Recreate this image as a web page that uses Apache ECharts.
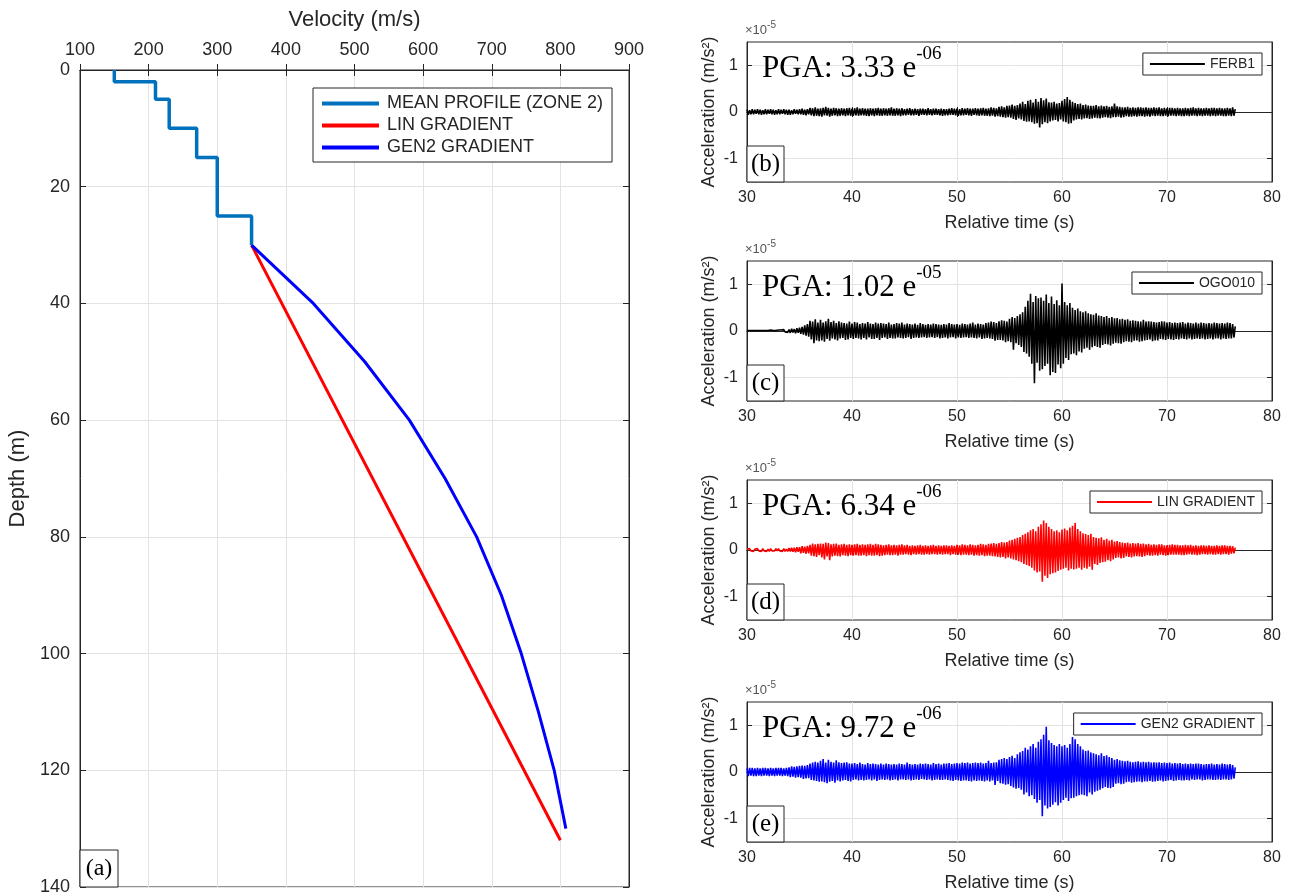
<!DOCTYPE html>
<html>
<head>
<meta charset="utf-8">
<script src="https://cdn.jsdelivr.net/npm/echarts@6/dist/echarts.min.js"></script>
<style>
html,body{margin:0;padding:0;background:#fff;}
#chart{width:1296px;height:896px;}
</style>
</head>
<body>
<div id="chart"></div>
<script>
// ---------------- Panel (a): velocity profiles ----------------
const meanLayerTop    = [0, 2, 5, 10, 15, 25];
const meanLayerBottom = [2, 5, 10, 15, 25, 30];
const meanLayerVel    = [150, 210, 230, 270, 300, 350];
const linDepth = [30, 132];
const linVel   = [350, 800];
const gen2Depth = [30, 40, 50, 60, 70, 80, 90, 100, 110, 120, 130];
const gen2Vel   = [350, 440, 515, 580, 632, 678, 714, 743, 768, 791, 808];
const velTicks = [100, 200, 300, 400, 500, 600, 700, 800, 900];
const depthTicks = [0, 20, 40, 60, 80, 100, 120, 140];

// ---------------- Panels (b)-(e): acceleration traces ----------------
// successive alternating peaks, units of 1e-7 m/s^2, one every 0.125 s from 30 s
const traceStart = 30;
const traceStep = 0.125;
const ferb1Peaks = [
5,-6,4,-5,6,-5,5,-4, 6,-5,5,-6,4,-5,6,-5, 5,-4,6,-5,5,-6,4,-5, 6,-5,5,-4,6,-5,5,-6,
5,-6,4,-5,6,-4,5,-5, 6,-5,7,-6,5,-7,6,-5, 9,-7,8,-9,10,-8,7,-9, 8,-10,9,-7,11,-8,9,-10,
7,-8,9,-7,8,-9,7,-8, 8,-7,7,-9,8,-7,9,-8, 7,-8,8,-7,10,-8,7,-7, 8,-7,7,-8,7,-9,8,-7,
7,-9,8,-7,9,-8,7,-8, 8,-7,7,-8,8,-7,10,-8, 7,-8,8,-7,7,-9,8,-7, 6,-7,7,-6,8,-7,6,-7,
7,-6,6,-8,7,-6,7,-6, 6,-7,8,-6,6,-7,7,-6, 7,-6,6,-7,7,-8,6,-7, 6,-7,7,-6,8,-6,7,-7,
7,-8,6,-7,8,-7,7,-6, 8,-7,7,-8,7,-6,8,-7, 7,-8,8,-7,9,-8,7,-8, 8,-9,10,-8,9,-10,8,-9,
11,-10,12,-11,10,-12,13,-11, 14,-12,16,-15,13,-17,15,-14, 18,-16,22,-19,17,-21,24,-20, 26,-22,20,-25,28,-24,22,-33,
30,-26,25,-22,29,-24,21,-20, 20,-18,22,-17,18,-20,19,-16, 24,-20,28,-22,32,-25,26,-24, 22,-18,19,-16,17,-15,18,-16,
15,-14,16,-13,14,-15,13,-14, 13,-12,15,-13,12,-14,14,-12, 12,-11,13,-12,11,-13,12,-11, 18,-11,12,-10,11,-12,10,-11,
10,-9,11,-10,9,-10,10,-9, 9,-10,10,-9,10,-9,9,-10, 10,-9,9,-10,9,-8,10,-9, 9,-8,10,-9,8,-9,9,-8,
8,-9,9,-8,9,-8,8,-9, 9,-8,8,-9,8,-9,9,-8, 8,-9,9,-8,10,-8,8,-9, 9,-8,8,-9,8,-8,9,-8,
8,-9,9,-8,9,-9,8,-8, 9,-8,8,-9,8,-9,9,-8, 8,-9,10,-8, 6
];
const ogo010Peaks = [
1,-1,1,-1,1,-1,1,-1, 1,-1,1,-1,1,-1,1,-1, 1,-1,2,-1,1,-2,1,-1, 2,-1,2,-2,3,-2,2,-3,
3,-4,5,-3,4,-5,6,-4, 7,-6,9,-8,12,-10,15,-12, 22,-18,20,-26,25,-20,18,-22, 24,-20,18,-23,21,-17,26,-21,
19,-16,22,-18,17,-20,21,-16, 18,-15,17,-19,16,-18,20,-15, 16,-17,19,-15,18,-16,15,-18, 17,-15,16,-18,19,-14,16,-17,
15,-17,18,-15,16,-19,17,-15, 16,-14,15,-17,18,-15,14,-16, 15,-16,17,-14,16,-15,18,-16, 14,-15,16,-13,15,-17,14,-15,
16,-14,13,-15,17,-14,15,-13, 13,-15,15,-14,14,-13,16,-15, 15,-13,14,-16,13,-15,15,-14, 14,-16,17,-14,15,-13,14,-16,
15,-14,13,-15,16,-14,15,-13, 14,-15,16,-14,18,-15,14,-16, 16,-14,15,-17,14,-16,17,-15, 18,-16,20,-17,19,-21,17,-19,
21,-19,23,-20,22,-24,20,-22, 26,-24,30,-40,28,-26,32,-30, 36,-34,40,-45,52,-48,65,-55, 80,-70,62,-112,75,-68,70,-85,
72,-82,65,-75,78,-70,60,-95, 74,-88,58,-90,66,-72,55,-80, 102,-70,62,-58,55,-62,60,-50, 50,-48,45,-52,48,-44,42,-46,
40,-38,42,-36,38,-40,36,-35, 35,-32,38,-34,33,-36,32,-30, 30,-28,32,-29,28,-31,30,-27, 27,-25,28,-26,25,-27,26,-24,
24,-22,25,-23,22,-24,23,-21, 22,-20,21,-23,20,-22,24,-20, 20,-19,21,-18,20,-22,19,-20, 18,-20,19,-17,21,-18,20,-19,
18,-17,19,-18,17,-19,18,-17, 17,-18,18,-16,19,-17,16,-18, 18,-16,17,-18,16,-17,18,-16, 16,-17,18,-16,17,-18,16,-17,
17,-16,16,-18,18,-16,17,-16, 16,-18,17,-16,16,-17,18,-16, 17,-16,15,-14, 10
];
const linPeaks = [
2,-2,3,-2,2,-3,2,-2, 3,-2,2,-3,3,-2,2,-3, 2,-3,3,-2,2,-2,3,-2, 3,-2,2,-3,3,-3,2,-3,
4,-3,5,-4,5,-5,6,-4, 6,-7,8,-6,7,-8,9,-7, 11,-12,14,-13,12,-15,13,-11, 14,-16,13,-20,16,-14,15,-22,
12,-14,13,-12,14,-13,11,-14, 12,-11,13,-12,11,-13,12,-11, 11,-12,12,-11,13,-12,11,-12, 12,-11,11,-13,12,-11,13,-12,
11,-12,13,-11,12,-13,11,-12, 10,-11,11,-10,12,-11,10,-11, 11,-10,10,-12,11,-10,12,-10, 10,-9,11,-10,9,-11,10,-9,
9,-10,10,-9,11,-10,9,-10, 10,-9,9,-10,10,-9,11,-9, 9,-10,10,-9,9,-10,10,-9, 10,-9,9,-11,10,-9,9,-10,
11,-10,10,-11,12,-10,11,-10, 10,-11,12,-10,11,-12,10,-11, 11,-12,13,-11,12,-13,11,-12, 13,-12,14,-13,15,-14,13,-15,
15,-16,17,-15,16,-18,17,-16, 20,-18,22,-20,24,-22,26,-24, 28,-26,32,-30,35,-32,38,-34, 42,-38,45,-44,40,-48,50,-46,
55,-68,63,-55,58,-60,50,-52, 45,-50,40,-48,42,-45,38,-42, 44,-40,46,-38,42,-44,48,-40, 52,-42,58,-40,45,-38,40,-42,
36,-38,34,-40,32,-36,35,-42, 28,-30,26,-32,25,-28,27,-26, 22,-25,24,-22,20,-24,22,-20, 18,-17,19,-16,17,-18,16,-17,
15,-14,16,-15,14,-16,15,-14, 14,-13,15,-14,13,-15,14,-13, 12,-11,13,-12,11,-12,12,-11, 11,-12,12,-10,12,-11,10,-12,
10,-11,11,-10,12,-10,11,-10, 11,-10,10,-11,10,-11,11,-10, 10,-9,11,-10,9,-10,10,-11, 9,-10,10,-9,10,-9,9,-10,
10,-9,9,-10,9,-10,10,-9, 9,-10,10,-9,10,-9,9,-10, 9,-8,8,-7, 5
];
const gen2Peaks = [
8,-9,9,-8,9,-9,8,-9, 9,-8,8,-9,9,-8,9,-8, 8,-9,9,-8,8,-9,9,-8, 9,-8,9,-9,8,-8,9,-9,
10,-11,12,-10,11,-12,12,-11, 13,-12,14,-15,13,-14,15,-13, 18,-17,20,-18,22,-19,20,-21, 24,-20,28,-22,20,-24,26,-21,
22,-19,20,-23,25,-18,21,-20, 19,-18,20,-17,21,-19,18,-20, 18,-17,19,-16,17,-18,20,-17, 17,-18,16,-17,19,-16,17,-18,
18,-16,17,-19,16,-17,18,-16, 16,-17,18,-16,17,-18,16,-17, 17,-16,16,-18,18,-16,17,-16, 16,-17,20,-16,17,-18,16,-17,
17,-16,16,-17,18,-15,17,-16, 18,-17,17,-16,16,-18,19,-17, 17,-16,18,-17,16,-17,18,-16, 18,-17,19,-18,17,-19,18,-17,
19,-18,18,-19,20,-18,19,-18, 20,-19,18,-20,19,-18,20,-19, 19,-18,20,-19,18,-20,19,-18, 24,-20,19,-18,20,-28,21,-19,
26,-24,28,-25,30,-27,28,-26, 32,-30,35,-33,30,-36,38,-34, 42,-38,45,-48,52,-44,48,-52, 55,-50,60,-58,52,-66,65,-60,
70,-95,80,-72,97,-78,68,-75, 62,-70,58,-65,55,-72,60,-66, 55,-60,58,-55,52,-62,60,-56, 75,-55,70,-52,60,-50,55,-48,
48,-50,45,-52,46,-44,42,-48, 40,-42,38,-40,36,-38,40,-35, 34,-32,36,-34,32,-35,30,-32, 26,-25,28,-24,25,-26,24,-25,
23,-22,24,-21,22,-23,21,-22, 22,-21,23,-20,21,-22,22,-20, 21,-20,22,-19,20,-21,21,-20, 20,-19,21,-18,19,-20,20,-19,
19,-18,20,-17,18,-19,19,-18, 18,-17,19,-18,17,-18,18,-17, 17,-18,18,-16,17,-17,18,-16, 18,-16,17,-18,16,-17,17,-16,
17,-16,18,-17,16,-17,17,-16, 16,-17,18,-16,17,-16,16,-17, 17,-16,15,-14, 10
];
const timeTicks = [30, 40, 50, 60, 70, 80];
const accTicks = [-100, 0, 100];   // = -1, 0, 1 x 10^-5

const panels = [
  {name: 'FERB1',         peaks: ferb1Peaks,  color: '#000000', pga: '3.33', exp: '-06', tag: '(b)', top: 42},
  {name: 'OGO010',        peaks: ogo010Peaks, color: '#000000', pga: '1.02', exp: '-05', tag: '(c)', top: 261},
  {name: 'LIN GRADIENT',  peaks: linPeaks,    color: '#ff0000', pga: '6.34', exp: '-06', tag: '(d)', top: 480},
  {name: 'GEN2 GRADIENT', peaks: gen2Peaks,   color: '#0000ff', pga: '9.72', exp: '-06', tag: '(e)', top: 702}
];

// ---------------- build option ----------------
const AX = '#262626';
const GRIDC = '#e3e3e3';
const SANS = '"Liberation Sans", Arial, sans-serif';
const SERIF = '"Liberation Serif", "Times New Roman", serif';

const meanPts = [];
for (let i = 0; i < meanLayerVel.length; i++) {
  meanPts.push([meanLayerVel[i], meanLayerTop[i]]);
  meanPts.push([meanLayerVel[i], meanLayerBottom[i]]);
}
const linPts = linDepth.map((d, i) => [linVel[i], d]);
const gen2Pts = gen2Depth.map((d, i) => [gen2Vel[i], d]);

const PH = 140, PW = 525, PL = 747;

const grid = [{left: 80, top: 70, width: 549, height: 817, show: true, borderColor: AX, borderWidth: 1, backgroundColor: '#fff'}];
const xAxis = [
  {gridIndex: 0, type: 'value', position: 'top', min: velTicks[0], max: velTicks[velTicks.length-1], interval: 100,
   name: 'Velocity (m/s)', nameLocation: 'middle', nameGap: 39,
   nameTextStyle: {fontFamily: SANS, fontSize: 22, color: AX},
   axisLine: {show: true, lineStyle: {color: AX}}, axisTick: {inside: true, length: 6, lineStyle: {color: AX}},
   axisLabel: {fontFamily: SANS, fontSize: 18, color: AX, margin: 11},
   splitLine: {show: true, lineStyle: {color: GRIDC}}},
  {gridIndex: 0, type: 'value', position: 'bottom', min: velTicks[0], max: velTicks[velTicks.length-1], interval: 100,
   axisLine: {show: true, lineStyle: {color: AX}}, axisTick: {inside: true, length: 6, lineStyle: {color: AX}},
   axisLabel: {show: false}, splitLine: {show: false}}
];
const yAxis = [
  {gridIndex: 0, type: 'value', inverse: true, min: depthTicks[0], max: depthTicks[depthTicks.length-1], interval: 20,
   name: 'Depth (m)', nameLocation: 'middle', nameGap: 51, nameRotate: 90,
   nameTextStyle: {fontFamily: SANS, fontSize: 22, color: AX},
   axisLine: {show: true, lineStyle: {color: AX}}, axisTick: {inside: true, length: 6, lineStyle: {color: AX}},
   axisLabel: {fontFamily: SANS, fontSize: 18, color: AX, margin: 10},
   splitLine: {show: true, lineStyle: {color: GRIDC}}},
  {gridIndex: 0, type: 'value', position: 'right', inverse: true, min: depthTicks[0], max: depthTicks[depthTicks.length-1], interval: 20,
   axisLine: {show: true, lineStyle: {color: AX}}, axisTick: {inside: true, length: 6, lineStyle: {color: AX}},
   axisLabel: {show: false}, splitLine: {show: false}}
];
const series = [
  {name: 'MEAN PROFILE (ZONE 2)', type: 'line', xAxisIndex: 0, yAxisIndex: 0, data: meanPts, symbol: 'none',
   lineStyle: {color: '#0072bd', width: 3.5}, itemStyle: {color: '#0072bd'}, z: 3},
  {name: 'LIN GRADIENT ', type: 'line', xAxisIndex: 0, yAxisIndex: 0, data: linPts, symbol: 'none',
   lineStyle: {color: '#ff0000', width: 3}, itemStyle: {color: '#ff0000'}, z: 2},
  {name: 'GEN2 GRADIENT ', type: 'line', xAxisIndex: 0, yAxisIndex: 0, data: gen2Pts, symbol: 'none',
   lineStyle: {color: '#0000ff', width: 3}, itemStyle: {color: '#0000ff'}, z: 2}
];
const legend = [{
  data: ['MEAN PROFILE (ZONE 2)', 'LIN GRADIENT ', 'GEN2 GRADIENT '],
  orient: 'vertical', left: 313, top: 88, itemWidth: 57, itemHeight: 4, itemGap: 1,
  padding: [5, 9, 4, 9], borderColor: AX, borderWidth: 1, backgroundColor: '#fff',
  textStyle: {fontFamily: SANS, fontSize: 18, color: AX, lineHeight: 21, padding: [0, 0, 0, 3]},
  icon: 'rect'
}];
const graphic = [];

// "(a)" tag
graphic.push({type: 'rect', shape: {x: 80, y: 850, width: 38, height: 37}, style: {fill: '#fff', stroke: AX, lineWidth: 1}, z: 100});
graphic.push({type: 'text', x: 99, y: 869, style: {text: '(a)', font: '24px ' + SERIF, fill: '#000', align: 'center', verticalAlign: 'middle'}, z: 101});

panels.forEach((p, k) => {
  const g = k + 1;
  grid.push({left: PL, top: p.top, width: PW, height: PH, show: true, borderColor: AX, borderWidth: 1, backgroundColor: '#fff'});
  const xb = xAxis.length;
  xAxis.push({gridIndex: g, type: 'value', position: 'bottom', min: timeTicks[0], max: timeTicks[timeTicks.length-1], interval: 10,
    name: 'Relative time (s)', nameLocation: 'middle', nameGap: 32,
    nameTextStyle: {fontFamily: SANS, fontSize: 18, color: AX},
    axisLine: {show: true, lineStyle: {color: AX}}, axisTick: {inside: true, length: 5, lineStyle: {color: AX}},
    axisLabel: {fontFamily: SANS, fontSize: 16, color: AX, margin: 8},
    splitLine: {show: true, lineStyle: {color: GRIDC}}});
  xAxis.push({gridIndex: g, type: 'value', position: 'top', min: timeTicks[0], max: timeTicks[timeTicks.length-1], interval: 10,
    axisLine: {show: true, lineStyle: {color: AX}}, axisTick: {inside: true, length: 5, lineStyle: {color: AX}},
    axisLabel: {show: false}, splitLine: {show: false}});
  const yb = yAxis.length;
  yAxis.push({gridIndex: g, type: 'value', min: -150, max: 150,
    name: 'Acceleration (m/s²)', nameLocation: 'middle', nameGap: 29, nameRotate: 90,
    nameTextStyle: {fontFamily: SANS, fontSize: 18, color: AX},
    axisLine: {show: true, lineStyle: {color: AX}},
    axisTick: {inside: true, length: 5, lineStyle: {color: AX}, customValues: accTicks},
    axisLabel: {fontFamily: SANS, fontSize: 16, color: AX, margin: 9, customValues: accTicks, formatter: v => String(v / 100)},
    splitLine: {show: true, lineStyle: {color: GRIDC}}});
  yAxis.push({gridIndex: g, type: 'value', position: 'right', min: -150, max: 150,
    axisLine: {show: true, lineStyle: {color: AX}},
    axisTick: {inside: true, length: 5, lineStyle: {color: AX}, customValues: accTicks},
    axisLabel: {show: false, customValues: accTicks}, splitLine: {show: false}});
  series.push({name: p.name, type: 'line', xAxisIndex: xb, yAxisIndex: yb,
    data: p.peaks.map((v, i) => [traceStart + i * traceStep, v]),
    symbol: 'none', sampling: 'none', lineStyle: {color: p.color, width: 1.6}, itemStyle: {color: p.color}, z: 2});
  legend.push({data: [p.name], right: 34, top: p.top + 11, itemWidth: 55, itemHeight: 2, itemGap: 4, icon: 'rect',
    padding: [4, 7, 4, 7], borderColor: AX, borderWidth: 1, backgroundColor: '#fff',
    textStyle: {fontFamily: SANS, fontSize: 14, color: AX}});
  // x10^-5 multiplier
  graphic.push({type: 'text', x: 745, y: p.top - 22, style: {
    text: '{m|×10}{s|-5}', rich: {m: {fontFamily: SANS, fontSize: 13, fill: '#555', verticalAlign: 'bottom', lineHeight: 17},
                               s: {fontFamily: SANS, fontSize: 10, fill: '#555', verticalAlign: 'top', lineHeight: 10}}}, z: 100});
  // PGA text
  graphic.push({type: 'text', x: 762, y: p.top + 3, style: {
    text: '{m|PGA: ' + p.pga + ' e}{s|' + p.exp + '}',
    rich: {m: {fontFamily: SERIF, fontSize: 31, fill: '#000', verticalAlign: 'bottom', lineHeight: 39},
           s: {fontFamily: SERIF, fontSize: 19, fill: '#000', verticalAlign: 'top', lineHeight: 19}}}, z: 100});
  // panel tag
  graphic.push({type: 'rect', shape: {x: PL, y: p.top + PH - 36, width: 37, height: 36}, style: {fill: '#fff', stroke: AX, lineWidth: 1}, z: 100});
  graphic.push({type: 'text', x: PL + 18.5, y: p.top + PH - 18, style: {text: p.tag, font: '25px ' + SERIF, fill: '#000', align: 'center', verticalAlign: 'middle'}, z: 101});
});

const chart = echarts.init(document.getElementById('chart'), null, {renderer: 'canvas'});
chart.setOption({
  animation: false,
  backgroundColor: '#fff',
  grid, xAxis, yAxis, series, legend, graphic
});
</script>
</body>
</html>
